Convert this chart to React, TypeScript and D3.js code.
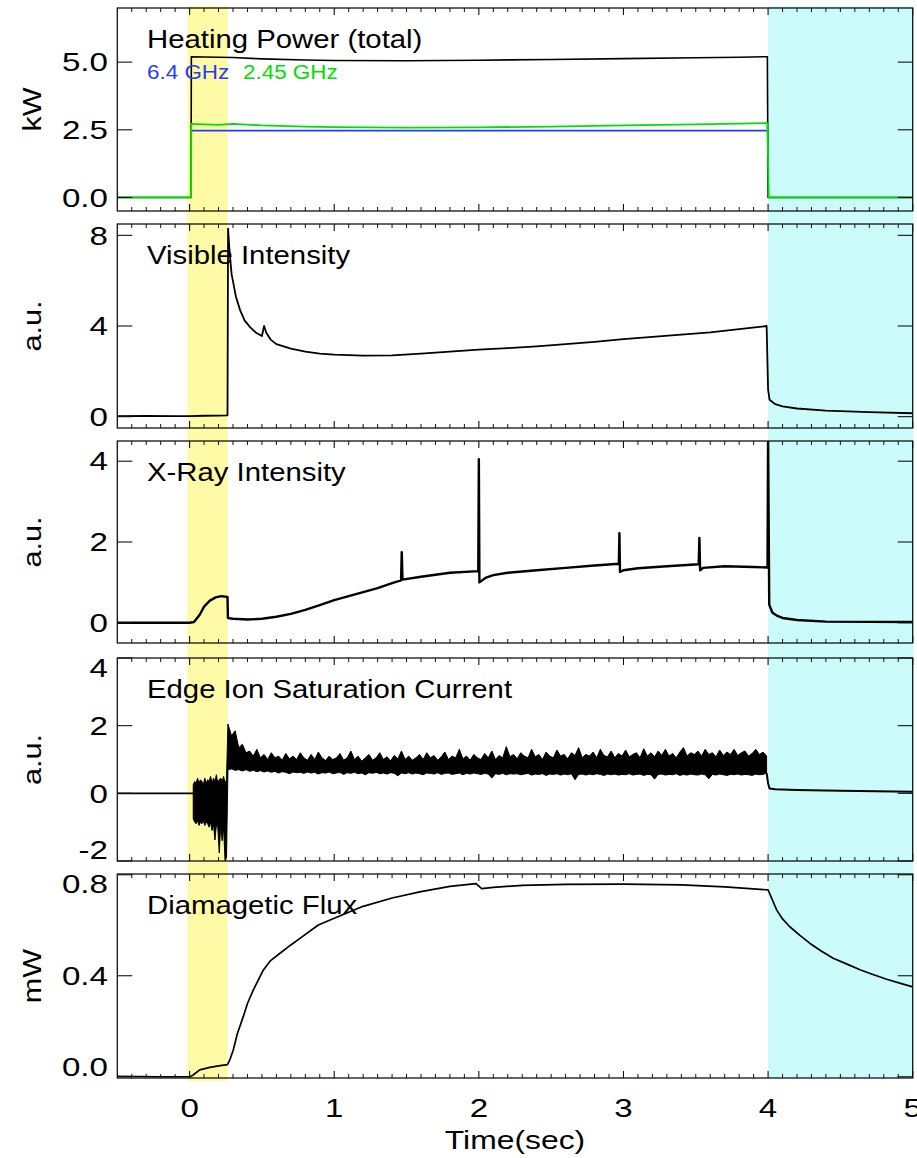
import React from 'react';
import * as d3 from 'd3';

// ---------- data ----------
// Panel 1: heating power (kW)
const powerTotalT = [-0.5, 0.01, 0.012, 0.1, 0.3, 0.5, 0.8, 1.0, 1.5, 2.0, 2.5, 3.0, 3.5, 3.8, 3.995, 4.0, 5.0];
const powerTotalV = [0, 0, 5.2, 5.19, 5.17, 5.12, 5.08, 5.06, 5.05, 5.07, 5.1, 5.13, 5.16, 5.18, 5.2, 0, 0];
const power245T = [-0.5, 0.01, 0.012, 0.1, 0.2, 0.3, 0.5, 0.8, 1.0, 1.5, 2.0, 2.5, 3.0, 3.5, 3.8, 3.995, 4.005, 5.0];
const power245V = [0, 0, 2.72, 2.7, 2.68, 2.72, 2.66, 2.62, 2.6, 2.58, 2.59, 2.62, 2.66, 2.7, 2.73, 2.75, 0, 0];
const power64T = [0.012, 3.995];
const power64V = [2.47, 2.47];

// Panel 2: visible intensity (a.u.)
const visibleT = [-0.5, -0.3, -0.1, 0.0, 0.1, 0.2, 0.262, 0.266, 0.275, 0.29, 0.302, 0.32, 0.349, 0.38, 0.418, 0.46, 0.5, 0.515, 0.53, 0.56, 0.6, 0.7, 0.8, 0.9, 1.0, 1.2, 1.4, 1.6, 1.8, 2.0, 2.2, 2.4, 2.6, 2.8, 3.0, 3.2, 3.4, 3.6, 3.8, 3.99, 4.0, 4.01, 4.05, 4.1, 4.2, 4.4, 4.7, 5.0];
const visibleV = [0.02, 0.03, 0.02, 0.02, 0.04, 0.05, 0.06, 8.3, 7.4, 6.3, 5.9, 5.3, 4.7, 4.25, 3.95, 3.7, 3.56, 4.0, 3.7, 3.4, 3.2, 3.0, 2.87, 2.78, 2.74, 2.69, 2.7, 2.78, 2.87, 2.96, 3.02, 3.1, 3.2, 3.3, 3.42, 3.52, 3.62, 3.72, 3.86, 4.0, 1.2, 0.75, 0.55, 0.45, 0.36, 0.27, 0.2, 0.15];

// Panel 3: X-ray intensity (a.u.)
const xrayT = [-0.5, 0.0, 0.03, 0.07, 0.1, 0.14, 0.18, 0.22, 0.262, 0.265, 0.3, 0.4, 0.5, 0.6, 0.7, 0.8, 0.9, 1.0, 1.1, 1.2, 1.3, 1.4, 1.462, 1.467, 1.472, 1.6, 1.8, 1.996, 2.0, 2.004, 2.05, 2.1, 2.2, 2.4, 2.6, 2.8, 2.968, 2.972, 2.976, 3.0, 3.1, 3.3, 3.52, 3.525, 3.53, 3.55, 3.7, 3.9, 3.996, 4.0, 4.008, 4.03, 4.06, 4.1, 4.2, 4.4, 5.0];
const xrayV = [0.0, 0.0, 0.02, 0.2, 0.4, 0.55, 0.63, 0.66, 0.64, 0.12, 0.1, 0.08, 0.1, 0.15, 0.22, 0.32, 0.44, 0.56, 0.66, 0.76, 0.86, 0.98, 1.05, 1.75, 1.07, 1.14, 1.24, 1.28, 4.05, 1.0, 1.12, 1.18, 1.24, 1.3, 1.36, 1.42, 1.46, 2.22, 1.26, 1.3, 1.35, 1.4, 1.45, 2.1, 1.3, 1.36, 1.4, 1.38, 1.37, 4.6, 0.45, 0.25, 0.18, 0.12, 0.07, 0.03, 0.02];

// Panel 4: edge ion saturation current (a.u.)
const edgePreT = [-0.5, 0.025];
const edgePreV = [0, 0];
// burst during the yellow phase, samples every 0.01 s from 0.025 s
const edgeBurstHigh = [0.25, 0.35, 0.3, 0.45, 0.3, 0.4, 0.35, 0.25, 0.45, 0.3, 0.4, 0.35, 0.5, 0.3, 0.45, 0.35, 0.55, 0.3, 0.4, 0.45, 0.35, 0.5, 0.3, 0.4];
const edgeBurstLow = [-0.75, -0.85, -0.9, -0.8, -0.95, -0.85, -0.9, -0.8, -0.95, -0.85, -0.9, -1.0, -0.85, -1.1, -0.9, -1.38, -0.95, -1.0, -1.76, -0.95, -1.4, -1.0, -2.0, -1.9];
// steady phase, samples every 0.025 s from 0.265 s
const edgeMainHigh = [
  2.05, 1.7, 1.85, 1.35, 1.45, 1.2, 1.25, 1.1, 1.3, 1.05,
  1.15, 1.0, 1.2, 1.05, 1.1, 0.98, 1.18, 1.02, 1.1, 1.0,
  1.2, 1.05, 0.98, 1.15, 1.0, 1.22, 1.05, 0.97, 1.1, 1.0,
  1.05, 1.18, 0.98, 1.05, 1.25, 1.0, 1.1, 0.95, 1.05, 1.15,
  0.98, 1.05, 1.2, 1.0, 1.08, 0.96, 1.12, 1.02, 1.25, 1.0,
  1.1, 0.98, 1.05, 1.15, 1.0, 1.2, 1.05, 1.12, 0.98, 1.08,
  1.22, 1.0, 1.1, 1.05, 1.3, 1.02, 1.1, 0.98, 1.15, 1.05,
  1.0, 1.18, 1.05, 1.25, 1.0, 1.12, 1.05, 1.38, 1.08, 1.15,
  1.02, 1.2, 1.1, 1.05, 1.3, 1.08, 1.15, 1.0, 1.22, 1.1,
  1.05, 1.28, 1.1, 1.15, 1.02, 1.2, 1.12, 1.35, 1.05, 1.15,
  1.1, 1.22, 1.05, 1.3, 1.12, 1.08, 1.25, 1.05, 1.18, 1.1,
  1.28, 1.08, 1.15, 1.2, 1.05, 1.32, 1.1, 1.2, 1.08, 1.25,
  1.12, 1.3, 1.1, 1.18, 1.05, 1.22, 1.35, 1.1, 1.2, 1.15,
  1.25, 1.1, 1.3, 1.15, 1.2, 1.08, 1.28, 1.12, 1.22, 1.15,
  1.3, 1.12, 1.2, 1.25, 1.1, 1.18, 1.3, 1.15, 1.22, 1.1,
];
const edgeMainLow = [
  0.7, 0.72, 0.68, 0.7, 0.66, 0.7, 0.65, 0.68, 0.64, 0.67,
  0.63, 0.66, 0.62, 0.65, 0.6, 0.64, 0.62, 0.58, 0.63, 0.61,
  0.62, 0.59, 0.63, 0.6, 0.62, 0.57, 0.61, 0.6, 0.63, 0.58,
  0.6, 0.62, 0.56, 0.61, 0.59, 0.62, 0.58, 0.6, 0.55, 0.61,
  0.59, 0.62, 0.58, 0.6, 0.57, 0.61, 0.59, 0.52, 0.6, 0.58,
  0.61, 0.57, 0.6, 0.58, 0.55, 0.6, 0.59, 0.57, 0.61, 0.56,
  0.59, 0.6, 0.56, 0.58, 0.6, 0.55, 0.59, 0.57, 0.6, 0.58,
  0.56, 0.59, 0.57, 0.45, 0.58, 0.56, 0.59, 0.55, 0.58, 0.57,
  0.58, 0.55, 0.57, 0.59, 0.54, 0.57, 0.56, 0.58, 0.53, 0.57,
  0.56, 0.58, 0.54, 0.57, 0.55, 0.58, 0.4, 0.56, 0.57, 0.54,
  0.57, 0.55, 0.58, 0.56, 0.53, 0.57, 0.55, 0.57, 0.54, 0.56,
  0.55, 0.58, 0.54, 0.56, 0.57, 0.53, 0.56, 0.55, 0.42, 0.56,
  0.57, 0.54, 0.56, 0.55, 0.58, 0.53, 0.56, 0.54, 0.57, 0.55,
  0.54, 0.57, 0.55, 0.43, 0.56, 0.54, 0.57, 0.55, 0.53, 0.56,
  0.55, 0.57, 0.54, 0.56, 0.55, 0.53, 0.57, 0.55, 0.56, 0.6,
];
const edgeTailT = [3.99, 4.0, 4.01, 4.05, 4.2, 4.5, 5.0];
const edgeTailV = [0.6, 0.3, 0.14, 0.12, 0.1, 0.08, 0.05];

// Panel 5: diamagnetic flux (mW)
const diamagT = [-0.5, -0.2, 0.0, 0.02, 0.07, 0.14, 0.2, 0.262, 0.28, 0.302, 0.33, 0.371, 0.4, 0.44, 0.51, 0.56, 0.625, 0.7, 0.763, 0.89, 1.0, 1.2, 1.4, 1.6, 1.8, 1.98, 2.0, 2.02, 2.1, 2.3, 2.6, 3.0, 3.4, 3.7, 4.0, 4.03, 4.06, 4.1, 4.15, 4.22, 4.29, 4.37, 4.45, 4.55, 4.64, 4.73, 4.82, 4.91, 5.0];
const diamagV = [0.002, 0.0, 0.0, 0.005, 0.027, 0.037, 0.043, 0.048, 0.07, 0.106, 0.17, 0.238, 0.29, 0.343, 0.423, 0.46, 0.489, 0.522, 0.548, 0.601, 0.628, 0.675, 0.708, 0.733, 0.754, 0.765, 0.755, 0.745, 0.75, 0.758, 0.762, 0.763, 0.76, 0.752, 0.74, 0.7, 0.66, 0.625, 0.594, 0.56, 0.528, 0.497, 0.469, 0.445, 0.423, 0.404, 0.386, 0.371, 0.356];

// Axes / labels
const xTickValues = [0, 1, 2, 3, 4, 5];
const xTickLabels = ['0', '1', '2', '3', '4', '5'];
const panelTitles = ['Heating Power (total)', 'Visible Intensity', 'X-Ray Intensity', 'Edge Ion Saturation Current', 'Diamagetic Flux'];
const yAxisLabels = ['kW', 'a.u.', 'a.u.', 'a.u.', 'mW'];
const yDomains: [number, number][] = [[-0.5, 7.0], [-0.5, 8.5], [-0.5, 4.5], [-2, 4], [-0.005, 0.803]];
const yTickValues = [[0, 2.5, 5.0], [0, 4, 8], [0, 2, 4], [-2, 0, 2, 4], [0, 0.4, 0.8]];
const yTickLabels = [['0.0', '2.5', '5.0'], ['0', '4', '8'], ['0', '2', '4'], ['-2', '0', '2', '4'], ['0.0', '0.4', '0.8']];
const legendLabels = ['6.4 GHz', '2.45 GHz'];
const phaseYellow = [-0.015, 0.263];
const phaseCyan = [4.0, 5.005];

// ---------- layout ----------
const W = 917, H = 1158;
const LEFT = 117.3, RIGHT = 912.7;
const panelTops = [8, 224, 441, 658, 874];
const panelBottoms = [211, 428, 643, 861, 1078];
const FONT = '"Liberation Sans", Arial, Helvetica, sans-serif';
const SX_TITLE = 1.15;
const SX_AXIS = 1.3;
const BLUE = '#1f3dff';
const GREEN = '#00e000';

const x = d3.scaleLinear().domain([-0.5, 5]).range([LEFT, RIGHT]);

function zip(t: number[], v: number[]) {
  return t.map((tt, i) => [tt, v[i]] as [number, number]);
}

function Txt(props: { x: number; y: number; size: number; sx?: number; anchor?: string; fill?: string; rotate?: boolean; children: any }) {
  const { x: tx, y: ty, size, sx = SX_TITLE, anchor = 'start', fill = '#000', rotate = false, children } = props;
  return (
    <text
      transform={`translate(${tx},${ty})${rotate ? ' rotate(-90)' : ''} scale(${sx},1)`}
      fontSize={size}
      fontFamily={FONT}
      textAnchor={anchor}
      fill={fill}
    >
      {children}
    </text>
  );
}

export default function App() {
  const yScales = yDomains.map((d, i) => d3.scaleLinear().domain(d).range([panelBottoms[i], panelTops[i]]));

  const lineFor = (ys: d3.ScaleLinear<number, number>) =>
    d3.line<[number, number]>().x((d) => x(d[0])).y((d) => ys(d[1]));

  const minorTicks = d3.range(-5, 51).filter((i) => i % 10 !== 0 && i !== -5).map((i) => i / 10);

  const burstT = d3.range(edgeBurstHigh.length).map((i) => 0.025 + i * 0.01);
  const mainT = d3.range(edgeMainHigh.length).map((i) => 0.265 + i * 0.025);
  const edgeBand = [
    ...burstT.map((t, i) => ({ t, lo: edgeBurstLow[i], hi: edgeBurstHigh[i] })),
    ...mainT.map((t, i) => ({ t, lo: edgeMainLow[i], hi: edgeMainHigh[i] })),
  ];
  const yE = yScales[3];
  const edgeArea = d3
    .area<{ t: number; lo: number; hi: number }>()
    .x((d) => x(d.t))
    .y0((d) => yE(d.lo))
    .y1((d) => yE(d.hi));

  const series: { panel: number; d: string; color: string; width: number }[] = [
    { panel: 0, d: lineFor(yScales[0])(zip(powerTotalT, powerTotalV))!, color: '#000', width: 1.6 },
    { panel: 0, d: lineFor(yScales[0])(zip(power64T, power64V))!, color: BLUE, width: 1.6 },
    { panel: 0, d: lineFor(yScales[0])(zip(power245T, power245V))!, color: GREEN, width: 1.8 },
    { panel: 1, d: lineFor(yScales[1])(zip(visibleT, visibleV))!, color: '#000', width: 1.8 },
    { panel: 2, d: lineFor(yScales[2])(zip(xrayT, xrayV))!, color: '#000', width: 2.4 },
    { panel: 3, d: lineFor(yScales[3])(zip(edgePreT, edgePreV))!, color: '#000', width: 1.6 },
    { panel: 3, d: lineFor(yScales[3])(zip(edgeTailT, edgeTailV))!, color: '#000', width: 2.0 },
    { panel: 4, d: lineFor(yScales[4])(zip(diamagT, diamagV))!, color: '#000', width: 1.7 },
  ];

  return (
    <svg width={W} height={H} style={{ position: 'absolute', left: 0, top: 0, background: '#fff' }}>
      <defs>
        {panelTops.map((top, i) => (
          <clipPath id={`clip${i}`} key={i}>
            <rect x={LEFT} y={top} width={RIGHT - LEFT} height={panelBottoms[i] - top} />
          </clipPath>
        ))}
      </defs>

      {/* phase bands */}
      <rect x={x(phaseYellow[0])} y={6} width={x(phaseYellow[1]) - x(phaseYellow[0])} height={1081 - 6} fill="#fffaa5" />
      <rect x={x(phaseCyan[0])} y={6} width={x(phaseCyan[1]) - x(phaseCyan[0])} height={1078 - 6} fill="#ccfbfb" />

      {panelTops.map((top, p) => {
        const bottom = panelBottoms[p];
        const ys = yScales[p];
        return (
          <g key={p}>
            <Txt x={147} y={top + 39.5} size={25.5}>{panelTitles[p]}</Txt>
            <g clipPath={`url(#clip${p})`}>
              {p === 3 && (
                <path d={edgeArea(edgeBand)!} fill="#000" stroke="#000" strokeWidth={1} strokeLinejoin="round" />
              )}
              {series
                .filter((s) => s.panel === p)
                .map((s, k) => (
                  <path key={k} d={s.d} fill="none" stroke={s.color} strokeWidth={s.width} strokeLinejoin="round" />
                ))}
            </g>
            <rect x={LEFT} y={top} width={RIGHT - LEFT} height={bottom - top} fill="none" stroke="#111" strokeWidth={1.3} />
            {xTickValues.map((v) => (
              <g key={`M${v}`}>
                <line x1={x(v)} x2={x(v)} y1={bottom} y2={bottom - 7} stroke="#111" strokeWidth={1.1} />
                <line x1={x(v)} x2={x(v)} y1={top} y2={top + 7} stroke="#111" strokeWidth={1.1} />
              </g>
            ))}
            {minorTicks.map((v) => (
              <g key={`m${v}`}>
                <line x1={x(v)} x2={x(v)} y1={bottom} y2={bottom - 4} stroke="#111" strokeWidth={1} />
                <line x1={x(v)} x2={x(v)} y1={top} y2={top + 4} stroke="#111" strokeWidth={1} />
              </g>
            ))}
            {yTickValues[p].map((v, k) => {
              const cy = Math.max(top + 9.5, Math.min(bottom - 11, ys(v)));
              return (
                <g key={`y${k}`}>
                  <line x1={LEFT} x2={LEFT + 15} y1={ys(v)} y2={ys(v)} stroke="#111" strokeWidth={1.1} />
                  <line x1={RIGHT} x2={RIGHT - 15} y1={ys(v)} y2={ys(v)} stroke="#111" strokeWidth={1.1} />
                  <Txt x={108} y={cy + 9.2} size={25.5} sx={SX_AXIS} anchor="end">{yTickLabels[p][k]}</Txt>
                </g>
              );
            })}
            <Txt x={41} y={(top + bottom) / 2} size={25.5} sx={1.2} anchor="middle" rotate>{yAxisLabels[p]}</Txt>
          </g>
        );
      })}

      <Txt x={147} y={79} size={19.5} fill={BLUE}>{legendLabels[0]}</Txt>
      <Txt x={243} y={79} size={19.5} fill={GREEN}>{legendLabels[1]}</Txt>

      {xTickValues.map((v, i) => (
        <Txt key={i} x={x(v)} y={1116.5} size={25.5} sx={SX_AXIS} anchor="middle">{xTickLabels[i]}</Txt>
      ))}
      <Txt x={(LEFT + RIGHT) / 2} y={1149} size={25.5} sx={1.25} anchor="middle">Time(sec)</Txt>
    </svg>
  );
}
